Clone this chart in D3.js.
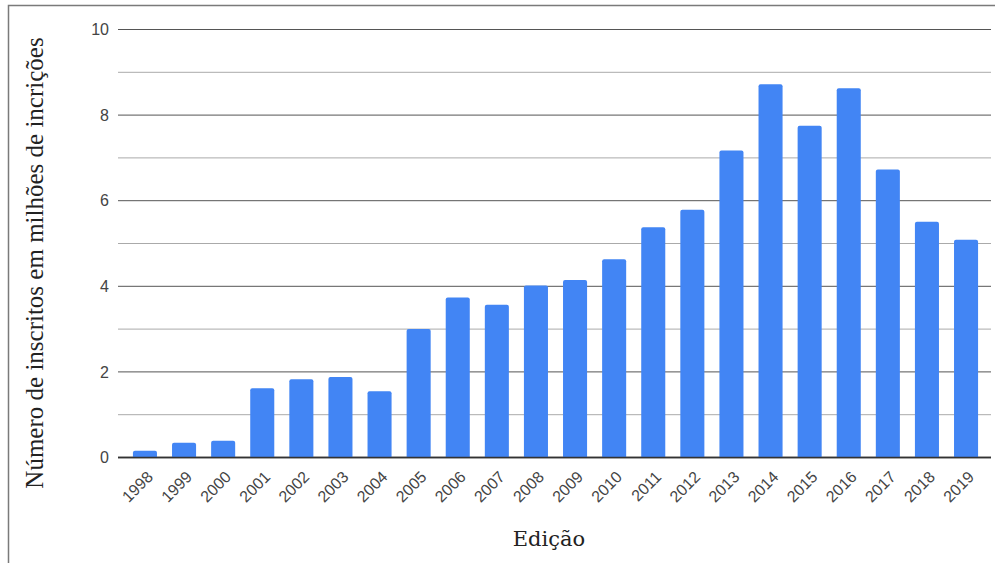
<!DOCTYPE html>
<html><head><meta charset="utf-8">
<script src="https://cdn.jsdelivr.net/npm/d3@7"></script>
<style>body{margin:0;background:#fff}svg{display:block}</style>
</head><body>
<script>
const years = ["1998","1999","2000","2001","2002","2003","2004","2005","2006","2007","2008","2009","2010","2011","2012","2013","2014","2015","2016","2017","2018","2019"];
const inscritos = [0.157,0.346,0.390,1.62,1.83,1.88,1.55,3.00,3.74,3.57,4.02,4.15,4.63,5.38,5.79,7.17,8.72,7.75,8.63,6.73,5.51,5.09];
const yTicks = [0,2,4,6,8,10];
const yMinor = [1,3,5,7,9];
const xTitle = "Edição";
const yTitle = "Número de inscritos em milhões de incrições";

const W = 995, H = 563;
const svg = d3.select("body").append("svg").attr("width", W).attr("height", H);

// frame
svg.append("path").attr("d", `M8.5,${H} V5.5 H995`).attr("fill","none").attr("stroke","#7a7a7a").attr("stroke-width",1.5);

const gridX0 = 118, gridX1 = 991;
const x = d3.scaleBand().domain(years).range([125.5, 985.5]).paddingInner(0.385).paddingOuter(0.19);
const y = d3.scaleLinear().domain([0,10]).range([457.5, 29.5]);

// minor gridlines
svg.append("g").selectAll("line").data(yMinor).join("line")
  .attr("x1", gridX0).attr("x2", gridX1)
  .attr("y1", d => y(d)).attr("y2", d => y(d))
  .attr("stroke","#aaaaaa").attr("stroke-width",1);
// major gridlines
svg.append("g").selectAll("line").data(yTicks).join("line")
  .attr("x1", gridX0).attr("x2", gridX1)
  .attr("y1", d => y(d)).attr("y2", d => y(d))
  .attr("stroke", d => d === 0 ? "#333" : "#555").attr("stroke-width", d => d===0 ? 1.5 : 1);

// bars
svg.append("g").selectAll("path").data(years).join("path")
  .attr("fill","#4285f4")
  .attr("d", (d,i) => {
    const x0 = x(d), w = x.bandwidth(), y0 = y(inscritos[i]), yb = y(0), r = 2;
    return `M${x0},${yb} V${y0+r} Q${x0},${y0} ${x0+r},${y0} H${x0+w-r} Q${x0+w},${y0} ${x0+w},${y0+r} V${yb} Z`;
  });

// redraw baseline on top
svg.append("line").attr("x1",gridX0).attr("x2",gridX1).attr("y1",y(0)).attr("y2",y(0)).attr("stroke","#333").attr("stroke-width",1.5);

// y tick labels
svg.append("g").selectAll("text").data(yTicks).join("text")
  .attr("x", 109).attr("y", d => y(d)).attr("dy","0.35em")
  .attr("text-anchor","end")
  .attr("font-family","'Liberation Sans', Arial, sans-serif").attr("font-size",16).attr("fill","#444")
  .text(d => d);

// x tick labels
svg.append("g").selectAll("text").data(years).join("text")
  .attr("transform", d => `translate(${x(d)+x.bandwidth()/2+9},${478}) rotate(-45)`)
  .attr("text-anchor","end")
  .attr("font-family","'Liberation Sans', Arial, sans-serif").attr("font-size",16).attr("fill","#444")
  .text(d => d);

// axis titles
svg.append("text").attr("x", 549).attr("y", 546).attr("text-anchor","middle")
  .attr("font-family","'DejaVu Serif', Georgia, serif").attr("font-size",21).attr("fill","#222")
  .text(xTitle);
svg.append("text").attr("transform", `translate(43,${263}) rotate(-90)`).attr("text-anchor","middle")
  .attr("font-family","'Liberation Serif', 'Times New Roman', serif").attr("font-size",25).attr("fill","#222")
  .text(yTitle);
</script>
</body></html>
